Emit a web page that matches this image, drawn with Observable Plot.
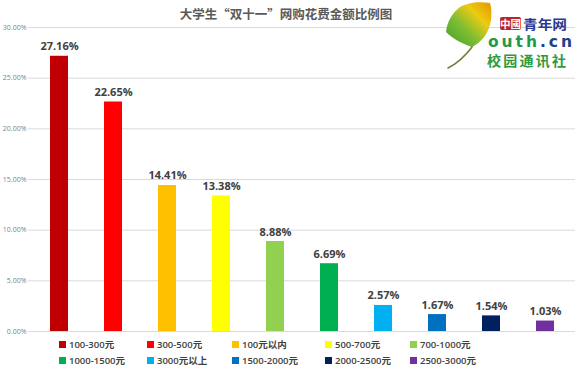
<!DOCTYPE html>
<html>
<head>
<meta charset="utf-8">
<script src="https://cdn.jsdelivr.net/npm/d3@7"></script>
<script src="https://cdn.jsdelivr.net/npm/@observablehq/plot@0.6"></script>
<style>
  html, body { margin: 0; padding: 0; background: #fff; }
  #wrap { position: relative; width: 577px; height: 376px; overflow: hidden; background: #fff; }
  #title { position: absolute; left: 0; width: 572px; top: 5px; text-align: center;
    font-family: "Noto Sans CJK SC", sans-serif; font-weight: 700; font-size: 12.5px; color: #595959; line-height: 17px; }
  #chart { position: absolute; left: 0; top: 0; }
  #legend { position: absolute; left: 0; top: 337px; width: 577px;
    font-family: "Open Sans", "Noto Sans CJK SC", sans-serif; font-size: 9.5px; font-weight: 600; color: #404040; }
  .item { position: absolute; height: 16px; line-height: 16px; white-space: nowrap; }
  .sw { display: inline-block; width: 7px; height: 7px; margin-right: 3px; vertical-align: 0px; }
  #logo { position: absolute; left: 0; top: 0; }
</style>
</head>
<body>
<div id="wrap">
  <div id="chart"></div>
  <div id="title">大学生“双十一”网购花费金额比例图</div>
  <div id="legend"></div>
  <svg id="logo" width="577" height="80" xmlns="http://www.w3.org/2000/svg">
    <defs>
      <linearGradient id="leafg" x1="0" y1="1" x2="1" y2="0">
        <stop offset="0" stop-color="#3f9e2a"/>
        <stop offset="0.4" stop-color="#7dbd34"/>
        <stop offset="0.7" stop-color="#eccb12"/>
        <stop offset="1" stop-color="#e59300"/>
      </linearGradient>
    </defs>
    <path d="M472,47 C481,42 489,34 491,20 C492,12 491,6 490,3 C478,1 467,3 460,7 C452,13 447,22 446,32 C452,38 460,43 472,47 Z" fill="url(#leafg)"/>
    <path d="M472,47 C466,55 458,63 448,68" fill="none" stroke="#7a7a3a" stroke-width="1.6" stroke-linecap="round"/>
    <rect x="500" y="17" width="21" height="13" rx="2" fill="#b8262c"/>
    <text x="510.5" y="27.5" text-anchor="middle" font-family="Noto Sans CJK SC" font-weight="700" font-size="10.5" fill="#fff">中國</text>
    <text x="523" y="28.5" font-family="Noto Sans CJK SC" font-weight="700" font-size="13" fill="#2b3990" textLength="44" lengthAdjust="spacingAndGlyphs">青年网</text>
    <text x="488" y="47" font-family="DejaVu Sans" font-weight="700" font-size="15.5" textLength="84" lengthAdjust="spacing"><tspan fill="#1f9a4a">outh</tspan><tspan fill="#1d4189">.cn</tspan></text>
    <text x="487" y="66" font-family="Noto Sans CJK SC" font-weight="700" font-size="14" fill="#2e9a3e" textLength="79" lengthAdjust="spacing">校园通讯社</text>
  </svg>
</div>
<script>
const categories = ["100-300元", "300-500元", "100元以内", "500-700元", "700-1000元",
                    "1000-1500元", "3000元以上", "1500-2000元", "2000-2500元", "2500-3000元"];
const values = [27.16, 22.65, 14.41, 13.38, 8.88, 6.69, 2.57, 1.67, 1.54, 1.03];
const colors = ["#C00000", "#FF0000", "#FFC000", "#FFFF00", "#92D050",
                "#00B050", "#00B0F0", "#0070C0", "#002060", "#7030A0"];
const yTicks = [0, 5, 10, 15, 20, 25, 30];

const data = categories.map((c, i) => ({cat: c, value: values[i]}));

const chart = Plot.plot({
  width: 577,
  height: 340,
  marginLeft: 28,
  marginRight: 2,
  marginTop: 27,
  marginBottom: 9,
  style: {fontFamily: "'Open Sans', sans-serif", fontSize: "7px", color: "#7f7f7f", background: "transparent", overflow: "visible"},
  x: {domain: categories, paddingInner: 0.67, paddingOuter: 0.335, axis: null},
  y: {domain: [0, 30], ticks: yTicks, tickFormat: d => d.toFixed(2) + "%", tickSize: 0, tickPadding: 2, label: null},
  color: {domain: categories, range: colors},
  marks: [
    Plot.ruleY(yTicks, {stroke: "#d9d9d9", strokeWidth: 1}),
    Plot.barY(data, {x: "cat", y: "value", fill: "cat"}),
    Plot.text(data, {x: "cat", y: "value", text: d => d.value.toFixed(2) + "%", dy: -6, lineAnchor: "bottom",
      fontSize: 11, fontWeight: "bold", fill: "#404040"})
  ]
});
document.getElementById("chart").appendChild(chart);

// legend
const colLefts = [59, 147, 232, 325, 410];
const legend = d3.select("#legend");
categories.forEach((c, i) => {
  const row = Math.floor(i / 5), col = i % 5;
  const it = legend.append("div").attr("class", "item")
    .style("left", colLefts[col] + "px").style("top", (row * 16) + "px");
  it.append("span").attr("class", "sw").style("background", colors[i]);
  it.append("span").text(c);
});
</script>
</body>
</html>
